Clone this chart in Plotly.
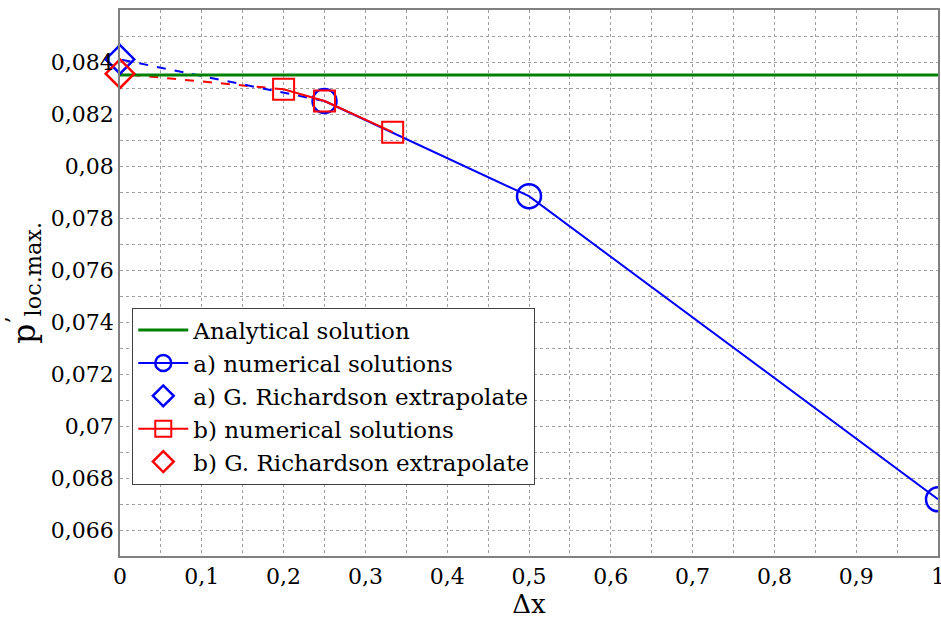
import plotly.graph_objects as go

BLUE = "#0000ff"
RED = "#ff0000"
GREEN = "#008000"
GRID = "#a0a0a0"
FONT = "DejaVu Serif"

# analytical value
analytic_x = [0, 1]
analytic_y = [0.08350, 0.08350]

# a) numerical solutions and Richardson extrapolate
a_dx = [1.0, 0.5, 0.25]
a_p = [0.06718, 0.07884, 0.08250]
a_rich_dx = [0.0]
a_rich_p = [0.08410]

# b) numerical solutions and Richardson extrapolate
b_dx = [1 / 3, 0.25, 0.2]
b_p = [0.08130, 0.08250, 0.08295]
b_rich_dx = [0.0]
b_rich_p = [0.08355]

x_ticks = [0, 0.1, 0.2, 0.3, 0.4, 0.5, 0.6, 0.7, 0.8, 0.9, 1]
y_ticks = [0.066, 0.068, 0.07, 0.072, 0.074, 0.076, 0.078, 0.08, 0.082, 0.084]

fig = go.Figure()

# dashed extrapolation links (no legend)
fig.add_trace(go.Scatter(
    x=[b_dx[-1]] + b_rich_dx, y=[b_p[-1]] + b_rich_p,
    mode="lines", line=dict(color=RED, width=2, dash="dash"),
    showlegend=False, hoverinfo="skip",
))
fig.add_trace(go.Scatter(
    x=[a_dx[-1]] + a_rich_dx, y=[a_p[-1]] + a_rich_p,
    mode="lines", line=dict(color=BLUE, width=2, dash="dash"),
    showlegend=False, hoverinfo="skip",
))

fig.add_trace(go.Scatter(
    x=analytic_x, y=analytic_y, mode="lines",
    line=dict(color=GREEN, width=3), name="Analytical solution",
))
fig.add_trace(go.Scatter(
    x=a_dx, y=a_p, mode="lines+markers",
    line=dict(color=BLUE, width=2),
    marker=dict(symbol="circle-open", size=24, color=BLUE, line=dict(width=2.5)),
    name="a) numerical solutions",
))
fig.add_trace(go.Scatter(
    x=a_rich_dx, y=a_rich_p, mode="markers",
    marker=dict(symbol="diamond-open", size=22, color=BLUE, line=dict(width=2.5)),
    name="a) G. Richardson extrapolate", cliponaxis=False,
))
fig.add_trace(go.Scatter(
    x=b_dx, y=b_p, mode="lines+markers",
    line=dict(color=RED, width=2),
    marker=dict(symbol="square-open", size=21, color=RED, line=dict(width=2)),
    name="b) numerical solutions",
))
fig.add_trace(go.Scatter(
    x=b_rich_dx, y=b_rich_p, mode="markers",
    marker=dict(symbol="diamond-open", size=22, color=RED, line=dict(width=2.5)),
    name="b) G. Richardson extrapolate", cliponaxis=False,
))

axis_common = dict(
    showline=True, linecolor="#808080", linewidth=1.5, mirror=True,
    showgrid=True, gridcolor=GRID, griddash="dot", gridwidth=1,
    zeroline=False, ticks="", automargin=False,
    tickfont=dict(size=22, color="black", family=FONT),
)

fig.update_layout(
    width=941, height=621,
    separators=",.",
    paper_bgcolor="white", plot_bgcolor="white",
    font=dict(family=FONT, color="black"),
    margin=dict(l=120, r=3, t=10, b=65),
    xaxis=dict(
        range=[0, 1], tickvals=x_ticks, ticklabeloverflow="allow",
        minor=dict(dtick=0.05, showgrid=True, gridcolor=GRID, griddash="dot"),
        title=dict(text="Δx", font=dict(size=26, family=FONT), standoff=0),
        **axis_common,
    ),
    yaxis=dict(
        range=[0.065, 0.086], tickvals=y_ticks,
        minor=dict(dtick=0.001, showgrid=True, gridcolor=GRID, griddash="dot"),
        title=dict(text="p<sup>’</sup><sub>loc.max.</sub>", font=dict(size=32, family=FONT), standoff=6),
        **axis_common,
    ),
    legend=dict(
        x=0.015, y=0.455, xanchor="left", yanchor="top",
        font=dict(size=23, family=FONT, color="black"),
        bordercolor="#404040", borderwidth=1, bgcolor="white",
        tracegroupgap=0, itemwidth=50,
    ),
    showlegend=True,
)

fig.write_html(
    "out.html",
    config={"displayModeBar": False},
    post_script="document.body.style.margin='0';",
)
